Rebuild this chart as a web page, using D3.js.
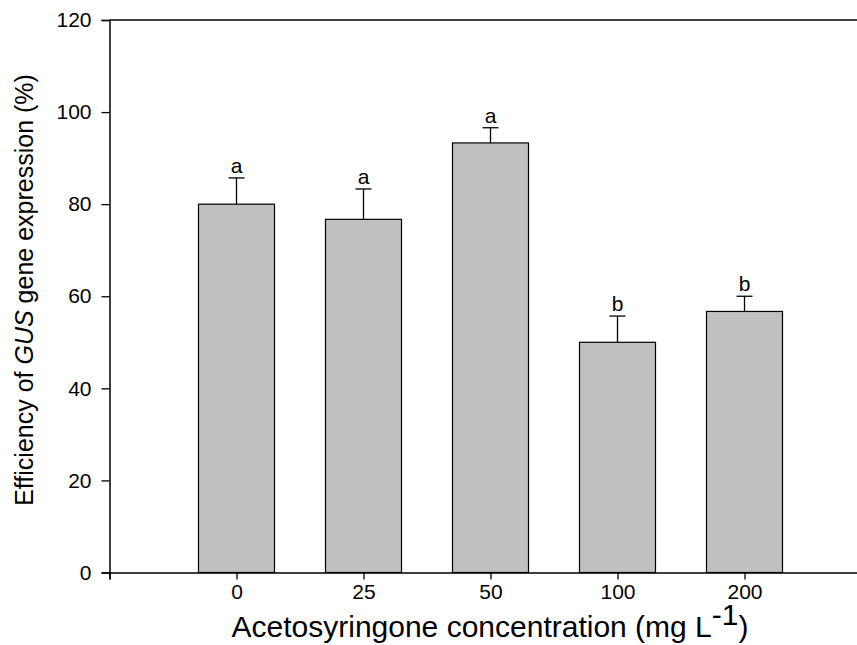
<!DOCTYPE html>
<html>
<head>
<meta charset="utf-8">
<script src="https://cdn.jsdelivr.net/npm/d3@7"></script>
<style>
  html, body { margin: 0; padding: 0; background: #fff; }
  svg { display: block; font-family: "Liberation Sans", Arial, sans-serif; }
</style>
</head>
<body>
<svg id="chart" width="857" height="645"></svg>
<script>
// Acetosyringone concentrations (mg/L) and GUS expression efficiency (%)
const categories = ["0", "25", "50", "100", "200"];
const means = [80, 76.7, 93.3, 50, 56.7];
const errors = [5.7, 6.6, 3.3, 5.7, 3.3];
const letters = ["a", "a", "a", "b", "b"];
const yTicks = [0, 20, 40, 60, 80, 100, 120];

const svg = d3.select("#chart");
const plotLeft = 109.5, plotTop = 20, plotBottom = 572.5;
const slot = 127;

// Positions: one slot of empty space before the first bar, axis continues past the frame
const x = d3.scaleLinear().domain([-1, 5]).range([plotLeft, plotLeft + 6 * slot]);
const y = d3.scaleLinear().domain([0, 120]).range([plotBottom, plotTop]);
const barW = 76;

const axisColor = "#000";

// Top frame line
svg.append("line")
  .attr("x1", plotLeft).attr("x2", 857 + 20)
  .attr("y1", y(120)).attr("y2", y(120))
  .attr("stroke", axisColor).attr("stroke-width", 1.5);

// Bars
svg.append("g").selectAll("rect")
  .data(means)
  .join("rect")
  .attr("x", (d, i) => x(i) - barW / 2)
  .attr("y", d => y(d))
  .attr("width", barW)
  .attr("height", d => y(0) - y(d))
  .attr("fill", "#c0c0c0")
  .attr("stroke", "#000")
  .attr("stroke-width", 1.2);

// Error bars (upper only)
const eb = svg.append("g").attr("stroke", "#000").attr("stroke-width", 1.3);
means.forEach((m, i) => {
  eb.append("line").attr("x1", x(i)).attr("x2", x(i)).attr("y1", y(m)).attr("y2", y(m + errors[i]));
  eb.append("line").attr("x1", x(i) - 8).attr("x2", x(i) + 8).attr("y1", y(m + errors[i])).attr("y2", y(m + errors[i]));
});

// Significance letters
svg.append("g").selectAll("text")
  .data(letters)
  .join("text")
  .attr("x", (d, i) => x(i))
  .attr("y", (d, i) => y(means[i] + errors[i]) - 5)
  .attr("text-anchor", "middle")
  .attr("font-size", 21)
  .text(d => d);

// Y axis
const yAxis = d3.axisLeft(y).tickValues(yTicks).tickSize(8).tickPadding(10).tickFormat(d3.format("d"));
const gy = svg.append("g").attr("transform", `translate(${plotLeft},0)`).call(yAxis);
gy.select(".domain").attr("stroke-width", 1.5);
gy.selectAll(".tick line").attr("stroke-width", 1.3);
gy.selectAll("text").attr("font-size", 21).attr("fill", "#000").attr("font-family", "Liberation Sans, Arial, sans-serif");

// X axis
const xAxis = d3.axisBottom(x).tickValues([-1, 0, 1, 2, 3, 4]).tickSize(7).tickPadding(5)
  .tickFormat(d => d < 0 ? "" : categories[d]);
const gx = svg.append("g").attr("transform", `translate(0,${plotBottom})`).call(xAxis);
gx.select(".domain").attr("stroke-width", 1.5);
gx.selectAll(".tick line").attr("stroke-width", 1.3);
gx.selectAll("text").attr("font-size", 21).attr("fill", "#000").attr("font-family", "Liberation Sans, Arial, sans-serif");

// Axis titles
const xt = svg.append("text")
  .attr("x", 490).attr("y", 637)
  .attr("text-anchor", "middle")
  .attr("font-size", 30);
xt.append("tspan").text("Acetosyringone concentration (mg L");
xt.append("tspan").attr("dy", -12).text("-1");
xt.append("tspan").attr("dy", 12).text(")");

const yt = svg.append("text")
  .attr("transform", "translate(33,290) rotate(-90)")
  .attr("text-anchor", "middle")
  .attr("font-size", 25);
yt.append("tspan").text("Efficiency of ");
yt.append("tspan").attr("font-style", "italic").text("GUS");
yt.append("tspan").text(" gene expression (%)");
</script>
</body>
</html>
